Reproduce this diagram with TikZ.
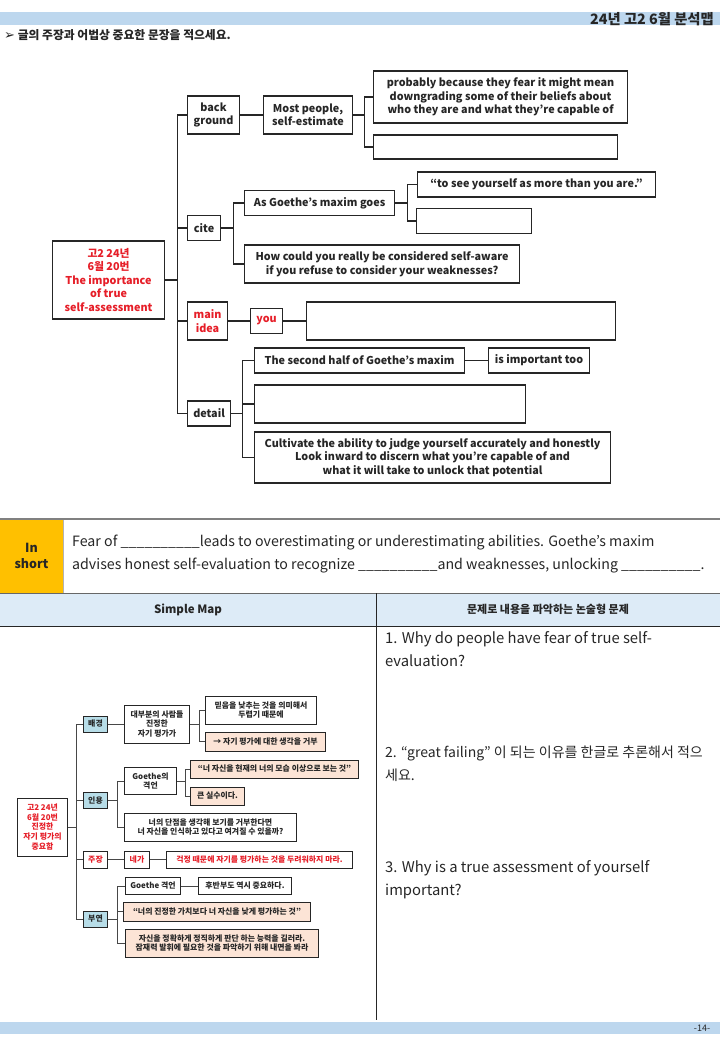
\documentclass[tikz,border=0pt]{standalone}
\usepackage{fontspec}
\setmainfont{Noto Sans CJK KR}
\newfontfamily\symfont{DejaVu Sans}
\usetikzlibrary{positioning}
\definecolor{bandblue}{HTML}{BDD7EE}
\definecolor{headblue}{HTML}{DDEBF7}
\definecolor{shortorange}{HTML}{FFC000}
\definecolor{keyblue}{HTML}{B7DDE8}
\definecolor{peach}{HTML}{FCE4D6}
\definecolor{mapred}{HTML}{E61E28}
\definecolor{ink}{HTML}{262626}

\begin{document}
\begin{tikzpicture}[x=1pt, y=-1pt,
  box/.style={draw=ink, line width=1.1pt, fill=white, anchor=west, align=center, inner sep=1pt, text=ink, font=\fontsize{10.8}{13.5}\selectfont\bfseries},
  sz/.style 2 args={minimum width=#1, minimum height=#2},
  hot/.style={text=mapred},
  link/.style={draw=ink, line width=1.1pt},
  mini/.style={draw=ink, line width=1pt, fill=white, anchor=west, align=center, inner sep=0.3pt, text=ink, font=\fontsize{7.9}{9.6}\selectfont\bfseries},
  key/.style={mini, fill=keyblue},
  note/.style={mini, fill=peach},
  minilink/.style={draw=ink!85, line width=0.9pt},
  plain/.style={inner sep=0, text=ink, align=left}
]
\useasboundingbox (0,0) rectangle (720,1040);

% header
\fill[bandblue] (0,12.5) rectangle (720,25.5);
\node[plain, anchor=east, font=\fontsize{14.3}{15}\selectfont\bfseries] (title) at (714,19) {24년 고2 6월 분석맵};
\node[plain, anchor=west, font=\fontsize{11.8}{13}\selectfont\bfseries] (task) at (4,35) {{\symfont\fontsize{13}{13}\selectfont ➢} 글의 주장과 어법상 중요한 문장을 적으세요.};

% mind map
\node[box, sz={112}{78}, hot] (root) at (52,280) {고2 24년\\6월 20번\\The importance\\of true\\self-assessment};
\node[box, sz={52}{38}] (bg) at (187,115) {back\\ground};
\node[box, sz={89}{38}] (most) at (263,115) {Most people,\\self-estimate};
\node[box, sz={254}{52}] (fear) at (373,97) {probably because they fear it might mean\\downgrading some of their beliefs about\\who they are and what they're capable of};
\node[box, sz={244}{24}] (blank1) at (373,147) {};
\node[box, sz={33}{25}] (cite) at (187,228) {cite};
\node[box, sz={150}{25}] (maxim) at (244,203) {As Goethe's maxim goes};
\node[box, sz={238}{25}] (quote) at (417,184.5) {“to see yourself as more than you are.”};
\node[box, sz={115}{25}] (blank2) at (416,221) {};
\node[box, sz={275}{38}] (aware) at (244,264) {How could you really be considered self-aware\\if you refuse to consider your weaknesses?};
\node[box, sz={40}{38}, hot] (main) at (187,321) {main\\idea};
\node[box, sz={32}{25}, hot] (you) at (250,321) {you};
\node[box, sz={309}{38}] (blank3) at (306,321) {};
\node[box, sz={43}{25}] (detail) at (187,413.5) {detail};
\node[box, sz={210}{25}] (half) at (254,360.5) {The second half of Goethe's maxim};
\node[box, sz={101}{25}] (imp) at (488,360.5) {is important too};
\node[box, sz={271}{38}] (blank4) at (254,404) {};
\node[box, sz={356}{51}] (cult) at (254,457.5) {Cultivate the ability to judge yourself accurately and honestly\\Look inward to discern what you're capable of and\\what it will take to unlock that potential};

\draw[link] (root.east) -- ++(12,0) coordinate (trunk);
\foreach \n in {bg,cite,main,detail} \draw[link] (trunk) |- (\n.west);
\draw[link] (bg) -- (most);
\draw[link] (most.east) -- ++(11,0) coordinate (j1);
\foreach \n in {fear,blank1} \draw[link] (j1) |- (\n.west);
\draw[link] (cite.east) -- ++(12,0) coordinate (j2);
\foreach \n in {maxim,aware} \draw[link] (j2) |- (\n.west);
\draw[link] (maxim.east) -- ++(12,0) coordinate (j3);
\foreach \n in {quote,blank2} \draw[link] (j3) |- (\n.west);
\draw[link] (main) -- (you);
\draw[link] (you) -- (blank3);
\draw[link] (detail.east) -- ++(11,0) coordinate (j4);
\foreach \n in {half,blank4,cult} \draw[link] (j4) |- (\n.west);
\draw[link] (half) -- (imp);

% in short
\fill[shortorange] (0,519) rectangle (63,593);
\draw[gray!60, line width=0.6pt] (63,519) -- (63,593);
\draw[gray, line width=2pt] (0,519) -- (720,519);
\node[plain, align=center, font=\fontsize{12.5}{16}\selectfont\bfseries] (inshort) at (31.5,556) {In\\short};
\node[plain, anchor=north west, font=\fontsize{14.2}{23}\selectfont] (summary) at (72,535) {Fear of \_\_\_\_\_\_\_\_\_\_leads to overestimating or underestimating abilities. Goethe's maxim\\advises honest self-evaluation to recognize \_\_\_\_\_\_\_\_\_\_and weaknesses, unlocking \_\_\_\_\_\_\_\_\_\_.};

% table
\fill[headblue] (0,593) rectangle (720,626);
\draw[ink!70, line width=0.6pt] (0,593) -- (720,593);
\draw[ink, line width=0.8pt] (0,626) -- (720,626);
\draw[ink, line width=0.8pt] (376,593) -- (376,1020);
\node[plain, font=\fontsize{11.5}{14}\selectfont\bfseries] (maphead) at (188,609.5) {Simple Map};
\node[plain, font=\fontsize{11}{14}\selectfont\bfseries] (qhead) at (548,609.5) {문제로 내용을 파악하는 논술형 문제};

\node[plain, anchor=north west, font=\fontsize{14.8}{23}\selectfont] (q1) at (385,631) {1. Why do people have fear of true self-\\evaluation?};
\node[plain, anchor=north west, font=\fontsize{14}{23}\selectfont] (q2) at (385,746) {2. “great failing” 이 되는 이유를 한글로 추론해서 적으\\세요.};
\node[plain, anchor=north west, font=\fontsize{14.8}{23}\selectfont] (q3) at (385,860) {3. Why is a true assessment of yourself\\important?};

% simple map
\node[mini, sz={50}{58}, hot] (sroot) at (17,827) {고2 24년\\6월 20번\\진정한\\자기 평가의\\중요함};
\node[key, sz={24}{16}] (sbg) at (83,724) {배경};
\node[mini, sz={65}{38}] (speople) at (124,724) {대부분의 사람들\\진정한\\자기 평가가};
\node[mini, sz={111}{28}] (sfear) at (205,710) {믿음을 낮추는 것을 의미해서\\두렵기 때문에};
\node[note, sz={120}{19}] (srefuse) at (205,741.5) {→ 자기 평가에 대한 생각을 거부};
\node[key, sz={24}{16}] (scite) at (83,800.5) {인용};
\node[mini, sz={52}{27}] (smaxim) at (124,781) {Goethe의\\격언};
\node[note, sz={168}{18}] (squote) at (190,769) {“너 자신을 현재의 너의 모습 이상으로 보는 것”};
\node[note, sz={54}{18}] (smistake) at (190,796) {큰 실수이다.};
\node[mini, sz={172}{28}] (saware) at (124,827) {너의 단점을 생각해 보기를 거부한다면\\너 자신을 인식하고 있다고 여겨질 수 있을까?};
\node[mini, sz={24}{17}, hot] (sclaim) at (83,859.5) {주장};
\node[mini, sz={25}{17}, hot] (syou) at (124,859.5) {네가};
\node[mini, sz={186}{17}, hot] (sdont) at (166,859.5) {걱정 때문에 자기를 평가하는 것을 두려워하지 마라.};
\node[key, sz={24}{16}] (sdetail) at (83,919) {부연};
\node[mini, sz={55}{17}] (smaxim2) at (125,886) {Goethe 격언};
\node[mini, sz={93}{17}] (slater) at (198,886) {후반부도 역시 중요하다.};
\node[note, sz={187}{19}] (squote2) at (123,911.5) {“너의 진정한 가치보다 너 자신을 낮게 평가하는 것”};
\node[note, sz={193}{28}] (sability) at (125,943) {자신을 정확하게 정직하게 판단 하는 능력을 길러라.\\잠재력 발휘에 필요한 것을 파악하기 위해 내면을 봐라};

\draw[minilink] (sroot.east) -- ++(8,0) coordinate (strunk);
\foreach \n in {sbg,scite,sclaim,sdetail} \draw[minilink] (strunk) |- (\n.west);
\draw[minilink] (sbg) -- (speople);
\draw[minilink] (speople.east) -- ++(9,0) coordinate (s1);
\foreach \n in {sfear,srefuse} \draw[minilink] (s1) |- (\n.west);
\draw[minilink] (scite.east) -- ++(9,0) coordinate (s2);
\foreach \n in {smaxim,saware} \draw[minilink] (s2) |- (\n.west);
\draw[minilink] (smaxim.east) -- ++(8,0) coordinate (s3);
\foreach \n in {squote,smistake} \draw[minilink] (s3) |- (\n.west);
\draw[minilink] (sclaim) -- (syou);
\draw[minilink] (syou) -- (sdont);
\draw[minilink] (sdetail.east) -- ++(9,0) coordinate (s4);
\foreach \n in {smaxim2,squote2,sability} \draw[minilink] (s4) |- (\n.west);
\draw[minilink] (smaxim2) -- (slater);

% footer
\fill[bandblue] (0,1022) rectangle (720,1034);
\node[plain, font=\fontsize{9}{10}\selectfont] (page) at (702,1028) {-14-};
\end{tikzpicture}
\end{document}
